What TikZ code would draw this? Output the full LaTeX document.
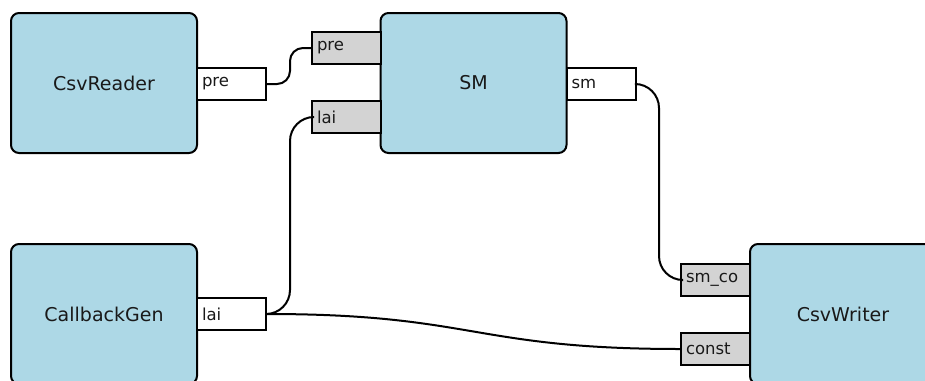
\documentclass[tikz,border=0pt]{standalone}
\usepackage{fontspec}
\setmainfont{DejaVu Sans}
\definecolor{blockblue}{HTML}{ADD8E6}
\definecolor{portgrey}{HTML}{D3D3D3}
\tikzset{
  block/.style={draw=black, line width=2pt, fill=blockblue, rounded corners=8pt,
    minimum width=186pt, minimum height=140pt, inner sep=0pt,
    font=\fontsize{19}{22}\selectfont, text=black!90},
  outport/.style={draw=black, line width=2pt, fill=white, inner xsep=5pt, inner ysep=0pt,
    text width=59pt, align=left, minimum height=32pt,
    font=\fontsize{16.5}{19}\selectfont, text=black!90},
  inport/.style={outport, fill=portgrey},
  wire/.style={draw=black, line width=2pt},
}
\begin{document}
\begin{tikzpicture}[x=1pt,y=-1pt]
\useasboundingbox (0,0) rectangle (925,380);
% blocks
\node[block] (csvreader) at (104,83) {CsvReader};
\node[block] (sm) at (473.5,83) {SM};
\node[block] (callback) at (104,314) {CallbackGen};
\node[block] (csvwriter) at (843,314) {CsvWriter};
% ports
\node[outport] (crpre) at (231.5,84) {pre};
\node[inport] (smpre) at (346.5,48) {pre};
\node[inport] (smlai) at (346.5,117) {lai};
\node[outport] (smsm) at (601,84) {sm};
\node[outport] (cblai) at (231.5,314) {lai};
\node[inport] (cwsmco) at (715.5,280) {sm\_co};
\node[inport] (cwconst) at (715.5,349) {const};
% wires
\draw[wire, rounded corners=13pt] (crpre.east) -- ++(23,0) |- (smpre.west);
\draw[wire, rounded corners=24pt] (cblai.east) -- ++(23,0) |- (smlai.west);
\draw[wire, rounded corners=24pt] (smsm.east) -- ++(22.5,0) |- (cwsmco.west);
\draw[wire] (cblai.east) .. controls +(207,0) and +(-207,0) .. (cwconst.west);
\end{tikzpicture}
\end{document}
